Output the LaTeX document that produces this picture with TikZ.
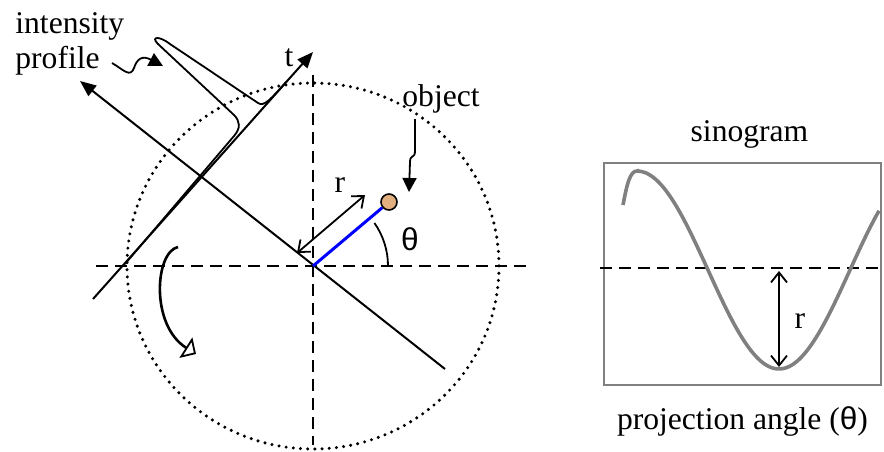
\documentclass[tikz,border=0pt]{standalone}
\usepackage{fontspec}
\setmainfont{Liberation Serif}
\newfontfamily\symfont{Liberation Sans}
\usepackage{xcolor}
\usetikzlibrary{arrows.meta,positioning}

\definecolor{objfill}{RGB}{226,176,126}

\begin{document}
\begin{tikzpicture}[
    x=0.5pt, y=-0.5pt,
    txt/.style={font=\fontsize{15.8}{17.5}\selectfont, inner sep=0pt},
    axisline/.style={line width=1pt, -{Triangle[length=8pt,width=6.5pt]}},
    guide/.style={line width=1.1pt, dash pattern=on 6pt off 3.5pt},
    dots/.style={line width=1.7pt, line cap=round, dash pattern=on 0pt off 3.6pt},
    measure/.style={line width=0.9pt, {Straight Barb[length=5pt,width=8pt]}-{Straight Barb[length=5pt,width=8pt]}},
    pointer/.style={line width=0.9pt, -{Triangle[length=7pt,width=7pt]}},
    sinobox/.style={rectangle, draw=black!50, line width=1.3pt, minimum width=138.5pt, minimum height=111pt, inner sep=0pt},
    wave/.style={draw=black!50, line width=1.8pt}
]
\useasboundingbox (0,0) rectangle (884,451);

% Centre and guide lines
\coordinate (O) at (313,266);
\coordinate (hleft) at (96,266);
\coordinate (hright) at (530,266);
\coordinate (vtop) at (313,75);
\coordinate (vbottom) at (313,445);
\draw[guide] (hleft) -- (hright);
\draw[guide] (vtop) -- (vbottom);
\draw[dots] (O) ellipse [x radius=186, y radius=183];

% Detector line and t axis
\coordinate (Pend) at (445,369);
\coordinate (Ptip) at (80,81);
\coordinate (Tend) at (93,299);
\coordinate (Ttip) at (313,52);
\draw[axisline] (Pend) -- (Ptip);
\draw[axisline] (Tend) -- (Ttip);
\node[txt, anchor=base] (t) at (289,66) {t};

% Intensity profile along t
\draw[line width=0.9pt] (125,264) -- (234,136)
    .. controls (241,128) and (240,121) .. (234,115) -- (158,44)
    .. controls (150,36) and (160,36) .. (170,44) -- (258,103)
    .. controls (264,107) and (270,100) .. (287,81);
\node[txt, anchor=base west] (intensity) at (15,33) {intensity};
\node[txt, anchor=base west] (profile) at ([yshift=-17.5pt]intensity.base west) {profile};
\coordinate (proftail) at (112,63);
\coordinate (profhead) at (163,66);
\draw[pointer] (proftail) .. controls (124,70) and (130,78) .. (134,68)
    .. controls (137,59) and (142,55) .. (profhead);

% Object, projection angle and offset r
\node[circle, draw, fill=objfill, line width=0.8pt, minimum size=8pt, inner sep=0pt] (obj) at (389,202) {};
\draw[blue, line width=1.5pt] (O) -- (obj);
\draw[line width=0.9pt] ([shift={(75,0)}]O) arc[start angle=0, end angle=-35, radius=75];
\node[txt] (theta) at (410,239) {\symfont θ};
\coordinate (rfoot) at (297,253);
\coordinate (rhead) at (365,195);
\draw[measure] (rfoot) -- (rhead);
\node[txt, anchor=base] (rlabel) at (340,192) {r};
\node[txt, anchor=base west] (objlabel) at (402,106) {object};
\coordinate (objtail) at (415,119);
\coordinate (objhead) at (409,192);
\draw[pointer] (objtail) -- (415,151) .. controls (415,159) and (410,154) .. (410,162) -- (objhead);

% Rotation
\draw[line width=1.3pt, -{Triangle[open,length=6pt,width=12pt,line width=0.9pt]}]
    (178,247) .. controls (155,252) and (150,325) .. (196,354);

% Sinogram
\node[sinobox] (sino) at (742.5,274) {};
\node[txt, above=6.5pt of sino, xshift=3.5pt] (sinolabel) {sinogram};
\node[txt, below=10pt of sino] (anglelabel) {projection angle ({\symfont θ})};
\coordinate (sleft) at (600,268);
\coordinate (sright) at (881,268);
\draw[guide] (sleft) -- (sright);
\draw[wave] (623,205) .. controls (627,184) and (630,171) .. (637,171)
    -- plot[domain=637:879, samples=60, smooth] (\x, {270+99*cos((\x-779)*1.2676)});
\coordinate (sr1) at (779,271);
\coordinate (sr2) at (779,367);
\draw[measure] (sr1) -- (sr2);
\node[txt, anchor=base] (srlabel) at (800,328) {r};

\end{tikzpicture}
\end{document}
